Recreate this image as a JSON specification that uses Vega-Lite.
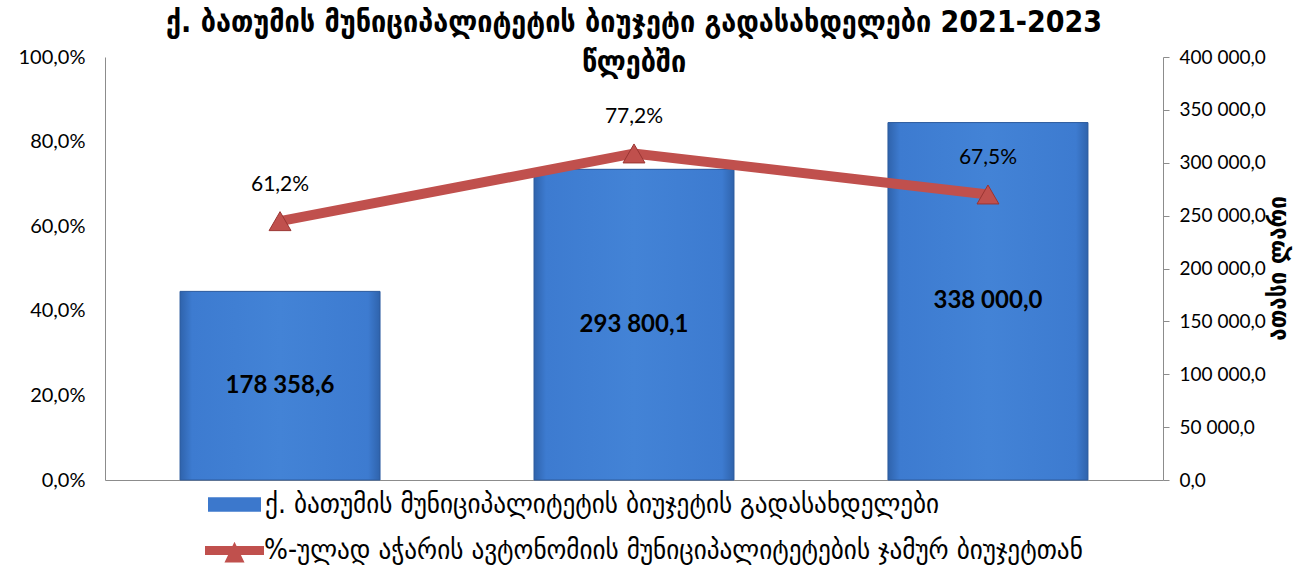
{
  "$schema": "https://vega.github.io/schema/vega-lite/v6.json",
  "width": 1058,
  "height": 423,
  "autosize": {"type": "none"},
  "padding": {"left": 105, "top": 57, "right": 133, "bottom": 89},
  "background": "white",
  "title": {
    "text": ["ქ. ბათუმის მუნიციპალიტეტის ბიუჯეტი გადასახდელები 2021-2023", "წლებში"],
    "font": "DejaVu Sans Condensed",
    "fontSize": 30,
    "fontWeight": "bold",
    "color": "black",
    "anchor": "middle",
    "baseline": "top",
    "lineHeight": 40,
    "offset": -31
  },
  "config": {
    "locale": {"number": {"decimal": ",", "thousands": " ", "grouping": [3], "currency": ["", ""]}},
    "view": {"stroke": null},
    "axis": {"grid": false, "domainColor": "#8c8c8c", "tickColor": "#8c8c8c", "labelFont": "Lato", "labelFontSize": 19, "labelColor": "black"}
  },
  "data": {
    "values": [
      {"year": "2021", "budget": 178358.6, "pct": 0.612, "s1": "ქ. ბათუმის მუნიციპალიტეტის ბიუჯეტის გადასახდელები", "s2": "%-ულად აჭარის ავტონომიის მუნიციპალიტეტების ჯამურ ბიუჯეტთან"},
      {"year": "2022", "budget": 293800.1, "pct": 0.772, "s1": "ქ. ბათუმის მუნიციპალიტეტის ბიუჯეტის გადასახდელები", "s2": "%-ულად აჭარის ავტონომიის მუნიციპალიტეტების ჯამურ ბიუჯეტთან"},
      {"year": "2023", "budget": 338000.0, "pct": 0.675, "s1": "ქ. ბათუმის მუნიციპალიტეტის ბიუჯეტის გადასახდელები", "s2": "%-ულად აჭარის ავტონომიის მუნიციპალიტეტების ჯამურ ბიუჯეტთან"}
    ]
  },
  "encoding": {
    "x": {
      "field": "year", "type": "nominal",
      "scale": {"paddingInner": 0.435, "paddingOuter": 0.212},
      "axis": {"title": null, "labels": false, "ticks": false, "domainColor": "#8c8c8c"}
    }
  },
  "layer": [
    {
      "encoding": {
        "y": {
          "field": "budget", "type": "quantitative",
          "scale": {"domain": [0, 400000], "nice": false},
          "axis": {
            "orient": "right", "values": [0, 50000, 100000, 150000, 200000, 250000, 300000, 350000, 400000],
            "format": ",.1f", "tickSize": 6, "labelPadding": 10,
            "title": "ათასი ლარი", "titleFont": "DejaVu Sans Condensed", "titleFontSize": 25, "titleFontWeight": "bold",
            "titleAngle": 270, "titleX": 114, "titleY": 211, "titleAlign": "center", "titleBaseline": "middle", "titleColor": "black"
          }
        }
      },
      "layer": [
        {
          "mark": {"type": "bar"},
          "encoding": {
            "fill": {
              "field": "s1", "type": "nominal",
              "scale": {"range": ["#3C78CC"]},
              "legend": {
                "title": null, "orient": "none", "legendX": 103, "legendY": 421, "padding": 0,
                "symbolType": "M-1,-0.27H1V0.27H-1Z", "symbolSize": 2809, "symbolStrokeWidth": 0,
                "labelFont": "DejaVu Sans Condensed", "labelFontSize": 28, "labelColor": "black", "labelOffset": 4, "labelLimit": 1000
              }
            }
          }
        },
        {
          "mark": {
            "type": "bar",
            "stroke": "#2E5C9E", "strokeWidth": 1,
            "color": {
              "gradient": "linear", "x1": 0, "y1": 0, "x2": 1, "y2": 0,
              "stops": [
                {"offset": 0, "color": "#2F63AC"},
                {"offset": 0.06, "color": "#3D7BD0"},
                {"offset": 0.5, "color": "#4383D6"},
                {"offset": 0.94, "color": "#3D7BD0"},
                {"offset": 1, "color": "#2F63AC"}
              ]
            }
          }
        }
      ]
    },
    {
      "mark": {"type": "text", "font": "Lato", "fontSize": 24, "fontWeight": "bold", "color": "black", "baseline": "middle"},
      "encoding": {
        "y": {"field": "budget", "type": "quantitative", "scale": {"domain": [0, 800000], "nice": false}, "axis": null},
        "text": {"field": "budget", "type": "quantitative", "format": ",.1f"}
      }
    },
    {
      "encoding": {
        "y": {
          "field": "pct", "type": "quantitative",
          "scale": {"domain": [0, 1], "nice": false},
          "axis": {"orient": "left", "values": [0, 0.2, 0.4, 0.6, 0.8, 1], "format": ".1%", "ticks": false, "labelPadding": 20, "labelFontSize": 20, "title": null}
        }
      },
      "layer": [
        {
          "mark": {"type": "line", "strokeWidth": 10, "color": "#C0504D"},
          "encoding": {
            "stroke": {
              "field": "s2", "type": "nominal",
              "scale": {"range": ["#C0504D"]},
              "legend": {
                "title": null, "orient": "none", "legendX": 100, "legendY": 464, "padding": 0,
                "symbolType": "M-1,-0.15H1V0.15H-1Z M-0.34,0.41L0,-0.3L0.34,0.41Z", "symbolSize": 3481,
                "symbolFillColor": "#C0504D", "symbolStrokeWidth": 0,
                "labelFont": "DejaVu Sans Condensed", "labelFontSize": 28, "labelColor": "black", "labelOffset": 0, "labelLimit": 1000
              }
            }
          }
        },
        {
          "mark": {"type": "point", "shape": "triangle-up", "size": 480, "filled": true, "fill": "#C0504D", "stroke": "#9A3532", "strokeWidth": 1, "opacity": 1}
        },
        {
          "mark": {"type": "text", "font": "Lato", "fontSize": 21, "color": "black", "dy": -36},
          "encoding": {"text": {"field": "pct", "type": "quantitative", "format": ".1%"}}
        }
      ]
    }
  ],
  "resolve": {"scale": {"y": "independent"}}
}
